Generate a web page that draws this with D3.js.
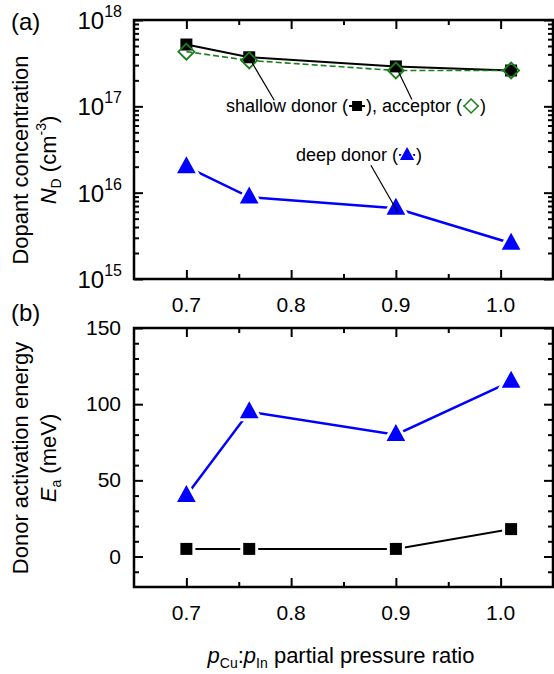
<!DOCTYPE html>
<html>
<head>
<meta charset="utf-8">
<script src="https://cdn.jsdelivr.net/npm/d3@7"></script>
<style>
  body { margin: 0; background: #fff; }
  svg { font-family: "Liberation Sans", Arial, sans-serif; }
</style>
</head>
<body>
<svg id="chart" width="554" height="674"></svg>
<script>
const ratio = [0.7, 0.76, 0.9, 1.01];
const shallowDonorND = [5.2e17, 3.7e17, 2.9e17, 2.6e17];
const acceptorND = [4.3e17, 3.4e17, 2.6e17, 2.6e17];
const deepDonorND = [2.0e16, 8.9e15, 6.6e15, 2.6e15];
const shallowDonorEa = [5, 5, 5, 18];
const deepDonorEa = [40, 95, 80, 115];
const xTicks = [0.7, 0.8, 0.9, 1.0];
const xMinor = [0.75, 0.85, 0.95];
const ndTicks = [1e15, 1e16, 1e17, 1e18];
const eaTicks = [0, 50, 100, 150];

const svg = d3.select('#chart');
const left = 134, right = 553;
const top1 = 20, bottom1 = 279;
const top2 = 328, bottom2 = 587;

const x = d3.scaleLinear().domain([0.65, 1.05]).range([left, right]);
const yND = d3.scaleLog().domain([1e15, 1e18]).range([bottom1, top1]);
const yEa = d3.scaleLinear().domain([-20, 150]).range([bottom2, top2]);

const ndMinor = yND.ticks().filter((d) => !ndTicks.includes(d));
const eaMinor = d3.range(-10, 150, 10).filter((d) => d % 50 !== 0);

function drawFrame(y, yTop, yBottom, majors, minors) {
  const g = svg.append('g').attr('class', 'axes');
  const clean = (sel) => sel.select('.domain').remove();
  const big = 9, small = 5;

  g.append('g').attr('transform', `translate(0,${yBottom})`)
    .call(d3.axisBottom(x).tickValues(xTicks).tickSize(-big).tickFormat(''))
    .call(clean);
  g.append('g').attr('transform', `translate(0,${yBottom})`)
    .call(d3.axisBottom(x).tickValues(xMinor).tickSize(-small).tickFormat(''))
    .call(clean);
  g.append('g').attr('transform', `translate(0,${yTop})`)
    .call(d3.axisTop(x).tickValues(xTicks).tickSize(-big).tickFormat(''))
    .call(clean);
  g.append('g').attr('transform', `translate(0,${yTop})`)
    .call(d3.axisTop(x).tickValues(xMinor).tickSize(-small).tickFormat(''))
    .call(clean);

  g.append('g').attr('transform', `translate(${left},0)`)
    .call(d3.axisLeft(y).tickValues(majors).tickSize(-big).tickFormat(''))
    .call(clean);
  g.append('g').attr('transform', `translate(${left},0)`)
    .call(d3.axisLeft(y).tickValues(minors).tickSize(-small).tickFormat(''))
    .call(clean);
  g.append('g').attr('transform', `translate(${right},0)`)
    .call(d3.axisRight(y).tickValues(majors).tickSize(-big).tickFormat(''))
    .call(clean);
  g.append('g').attr('transform', `translate(${right},0)`)
    .call(d3.axisRight(y).tickValues(minors).tickSize(-small).tickFormat(''))
    .call(clean);

  g.selectAll('.tick line').attr('stroke', '#000').attr('stroke-width', 2);

  g.append('rect')
    .attr('x', left).attr('y', yTop)
    .attr('width', right - left).attr('height', yBottom - yTop)
    .attr('fill', 'none').attr('stroke', '#000').attr('stroke-width', 2.5);

  // x tick labels
  g.append('g').selectAll('text')
    .data(xTicks)
    .join('text')
    .attr('x', (d) => x(d))
    .attr('y', yBottom + 33)
    .attr('text-anchor', 'middle')
    .attr('font-size', 21)
    .text(d3.format('.1f'));
}

drawFrame(yND, top1, bottom1, ndTicks, ndMinor);
drawFrame(yEa, top2, bottom2, eaTicks, eaMinor);

// log tick labels 10^n
const ndLabels = svg.append('g').selectAll('text')
  .data(ndTicks)
  .join('text')
  .attr('x', 122)
  .attr('y', (d) => yND(d) + 9)
  .attr('text-anchor', 'end')
  .attr('font-size', 24);
ndLabels.append('tspan').text('10');
ndLabels.append('tspan')
  .attr('dy', -12)
  .attr('font-size', 16)
  .text((d) => Math.round(Math.log10(d)));

svg.append('g').selectAll('text')
  .data(eaTicks)
  .join('text')
  .attr('x', 121)
  .attr('y', (d) => yEa(d) + 7)
  .attr('text-anchor', 'end')
  .attr('font-size', 21)
  .text((d) => d);

// panel letters
svg.append('text').attr('x', 11).attr('y', 30).attr('font-size', 24).text('(a)');
svg.append('text').attr('x', 11).attr('y', 321).attr('font-size', 24).text('(b)');

// y titles
function yTitle(cx, cy, build) {
  const t = svg.append('text')
    .attr('transform', `translate(${cx},${cy}) rotate(-90)`)
    .attr('text-anchor', 'middle')
    .attr('font-size', 22);
  build(t);
}
yTitle(28, 160, (t) => t.text('Dopant concentration'));
yTitle(56, 160, (t) => {
  t.append('tspan').attr('font-style', 'italic').text('N');
  t.append('tspan').attr('font-size', 14).attr('dy', 5).text('D');
  t.append('tspan').attr('dy', -5).text(' (cm');
  t.append('tspan').attr('font-size', 14).attr('dy', -10).text('-3');
  t.append('tspan').attr('dy', 10).text(')');
});
yTitle(28, 458, (t) => t.text('Donor activation energy'));
yTitle(56, 458, (t) => {
  t.append('tspan').attr('font-style', 'italic').text('E');
  t.append('tspan').attr('font-size', 14).attr('dy', 5).text('a');
  t.append('tspan').attr('dy', -5).text(' (meV)');
});

// x title
const xt = svg.append('text')
  .attr('x', 341).attr('y', 663)
  .attr('text-anchor', 'middle')
  .attr('font-size', 22);
xt.append('tspan').attr('font-style', 'italic').text('p');
xt.append('tspan').attr('font-size', 14).attr('dy', 5).text('Cu');
xt.append('tspan').attr('dy', -5).text(':');
xt.append('tspan').attr('font-style', 'italic').text('p');
xt.append('tspan').attr('font-size', 14).attr('dy', 5).text('In');
xt.append('tspan').attr('dy', -5).text(' partial pressure ratio');

// markers
const sqPath = (s) => `M${-s / 2},${-s / 2}h${s}v${s}h${-s}Z`;
const diaPath = (s) => `M0,${-s}L${s},0L0,${s}L${-s},0Z`;
const triPath = (s) => `M0,${-s * 0.62}L${s * 0.55},${s * 0.38}L${-s * 0.55},${s * 0.38}Z`;

function series(values, y, opts) {
  const pts = ratio.map((r, i) => [x(r), y(values[i])]);
  const g = svg.append('g');
  g.append('path')
    .attr('d', d3.line()(pts))
    .attr('fill', 'none')
    .attr('stroke', opts.color)
    .attr('stroke-width', opts.width)
    .attr('stroke-dasharray', opts.dash || null);
  return { g, pts };
}

function markers(pts, path, opts) {
  const g = svg.append('g');
  if (opts.halo) {
    g.selectAll('path.halo').data(pts).join('path')
      .attr('class', 'halo')
      .attr('transform', (d) => `translate(${d[0]},${d[1]})`)
      .attr('d', path)
      .attr('fill', '#fff').attr('stroke', '#fff').attr('stroke-width', opts.halo);
  }
  g.selectAll('path.m').data(pts).join('path')
    .attr('class', 'm')
    .attr('transform', (d) => `translate(${d[0]},${d[1]})`)
    .attr('d', path)
    .attr('fill', opts.fill)
    .attr('stroke', opts.stroke || 'none')
    .attr('stroke-width', opts.sw || 0);
}

// top panel
const sd = series(shallowDonorND, yND, { color: '#000', width: 2 });
const ac = series(acceptorND, yND, { color: '#1a7f1a', width: 1.6, dash: '6,3' });
const dd = series(deepDonorND, yND, { color: '#0000ff', width: 2.5 });
markers(sd.pts, sqPath(12), { fill: '#000' });
markers(ac.pts, diaPath(8), { fill: 'none', stroke: '#1a7f1a', sw: 1.8 });
markers(dd.pts, triPath(17), { fill: '#0000ff', halo: 6 });

// bottom panel
const se = series(shallowDonorEa, yEa, { color: '#000', width: 2 });
const de = series(deepDonorEa, yEa, { color: '#0000ff', width: 2.5 });
markers(se.pts, sqPath(12), { fill: '#000', halo: 6 });
markers(de.pts, triPath(17), { fill: '#0000ff', halo: 6 });

// annotations
const ann = svg.append('g').attr('font-size', 18);
function leader(p, dx, dy) {
  ann.append('line')
    .attr('x1', p[0] + 2).attr('y1', p[1] + 4)
    .attr('x2', p[0] + dx).attr('y2', p[1] + dy)
    .attr('stroke', '#000').attr('stroke-width', 1.2);
}
leader(sd.pts[1], 25, 43);
leader(sd.pts[2], 16, 33);
leader(dd.pts[2], -25, -43);

function inlineSymbol(parent, xPos, baseline, path, opts) {
  const cy = baseline - 6;
  parent.append('line')
    .attr('x1', xPos).attr('x2', xPos + 16)
    .attr('y1', cy).attr('y2', cy)
    .attr('stroke', opts.line).attr('stroke-width', opts.lw || 2)
    .attr('stroke-dasharray', opts.dash || null);
  if (opts.halo) {
    parent.append('path').attr('transform', `translate(${xPos + 8},${cy})`).attr('d', path)
      .attr('fill', '#fff').attr('stroke', '#fff').attr('stroke-width', 3);
  }
  parent.append('path')
    .attr('transform', `translate(${xPos + 8},${cy})`)
    .attr('d', path)
    .attr('fill', opts.fill)
    .attr('stroke', opts.stroke || 'none')
    .attr('stroke-width', opts.sw || 0);
  return xPos + 16;
}

function annText(x0, baseline, parts) {
  let cx = x0;
  parts.forEach((p) => {
    if (typeof p === 'string') {
      const t = ann.append('text').attr('x', cx).attr('y', baseline).text(p);
      cx += t.node().getComputedTextLength();
    } else {
      cx = inlineSymbol(ann, cx + 1, baseline, p.path, p) + 1;
    }
  });
}

annText(226, 112, [
  'shallow donor (',
  { path: sqPath(10), fill: '#000', line: '#000' },
  '), acceptor (',
  { path: diaPath(7), fill: '#fff', stroke: '#1a7f1a', sw: 1.5, line: '#1a7f1a', lw: 1.2 },
  ')'
]);
annText(296, 161, [
  'deep donor (',
  { path: triPath(13), fill: '#0000ff', line: '#0000ff', halo: true },
  ')'
]);
</script>
</body>
</html>
